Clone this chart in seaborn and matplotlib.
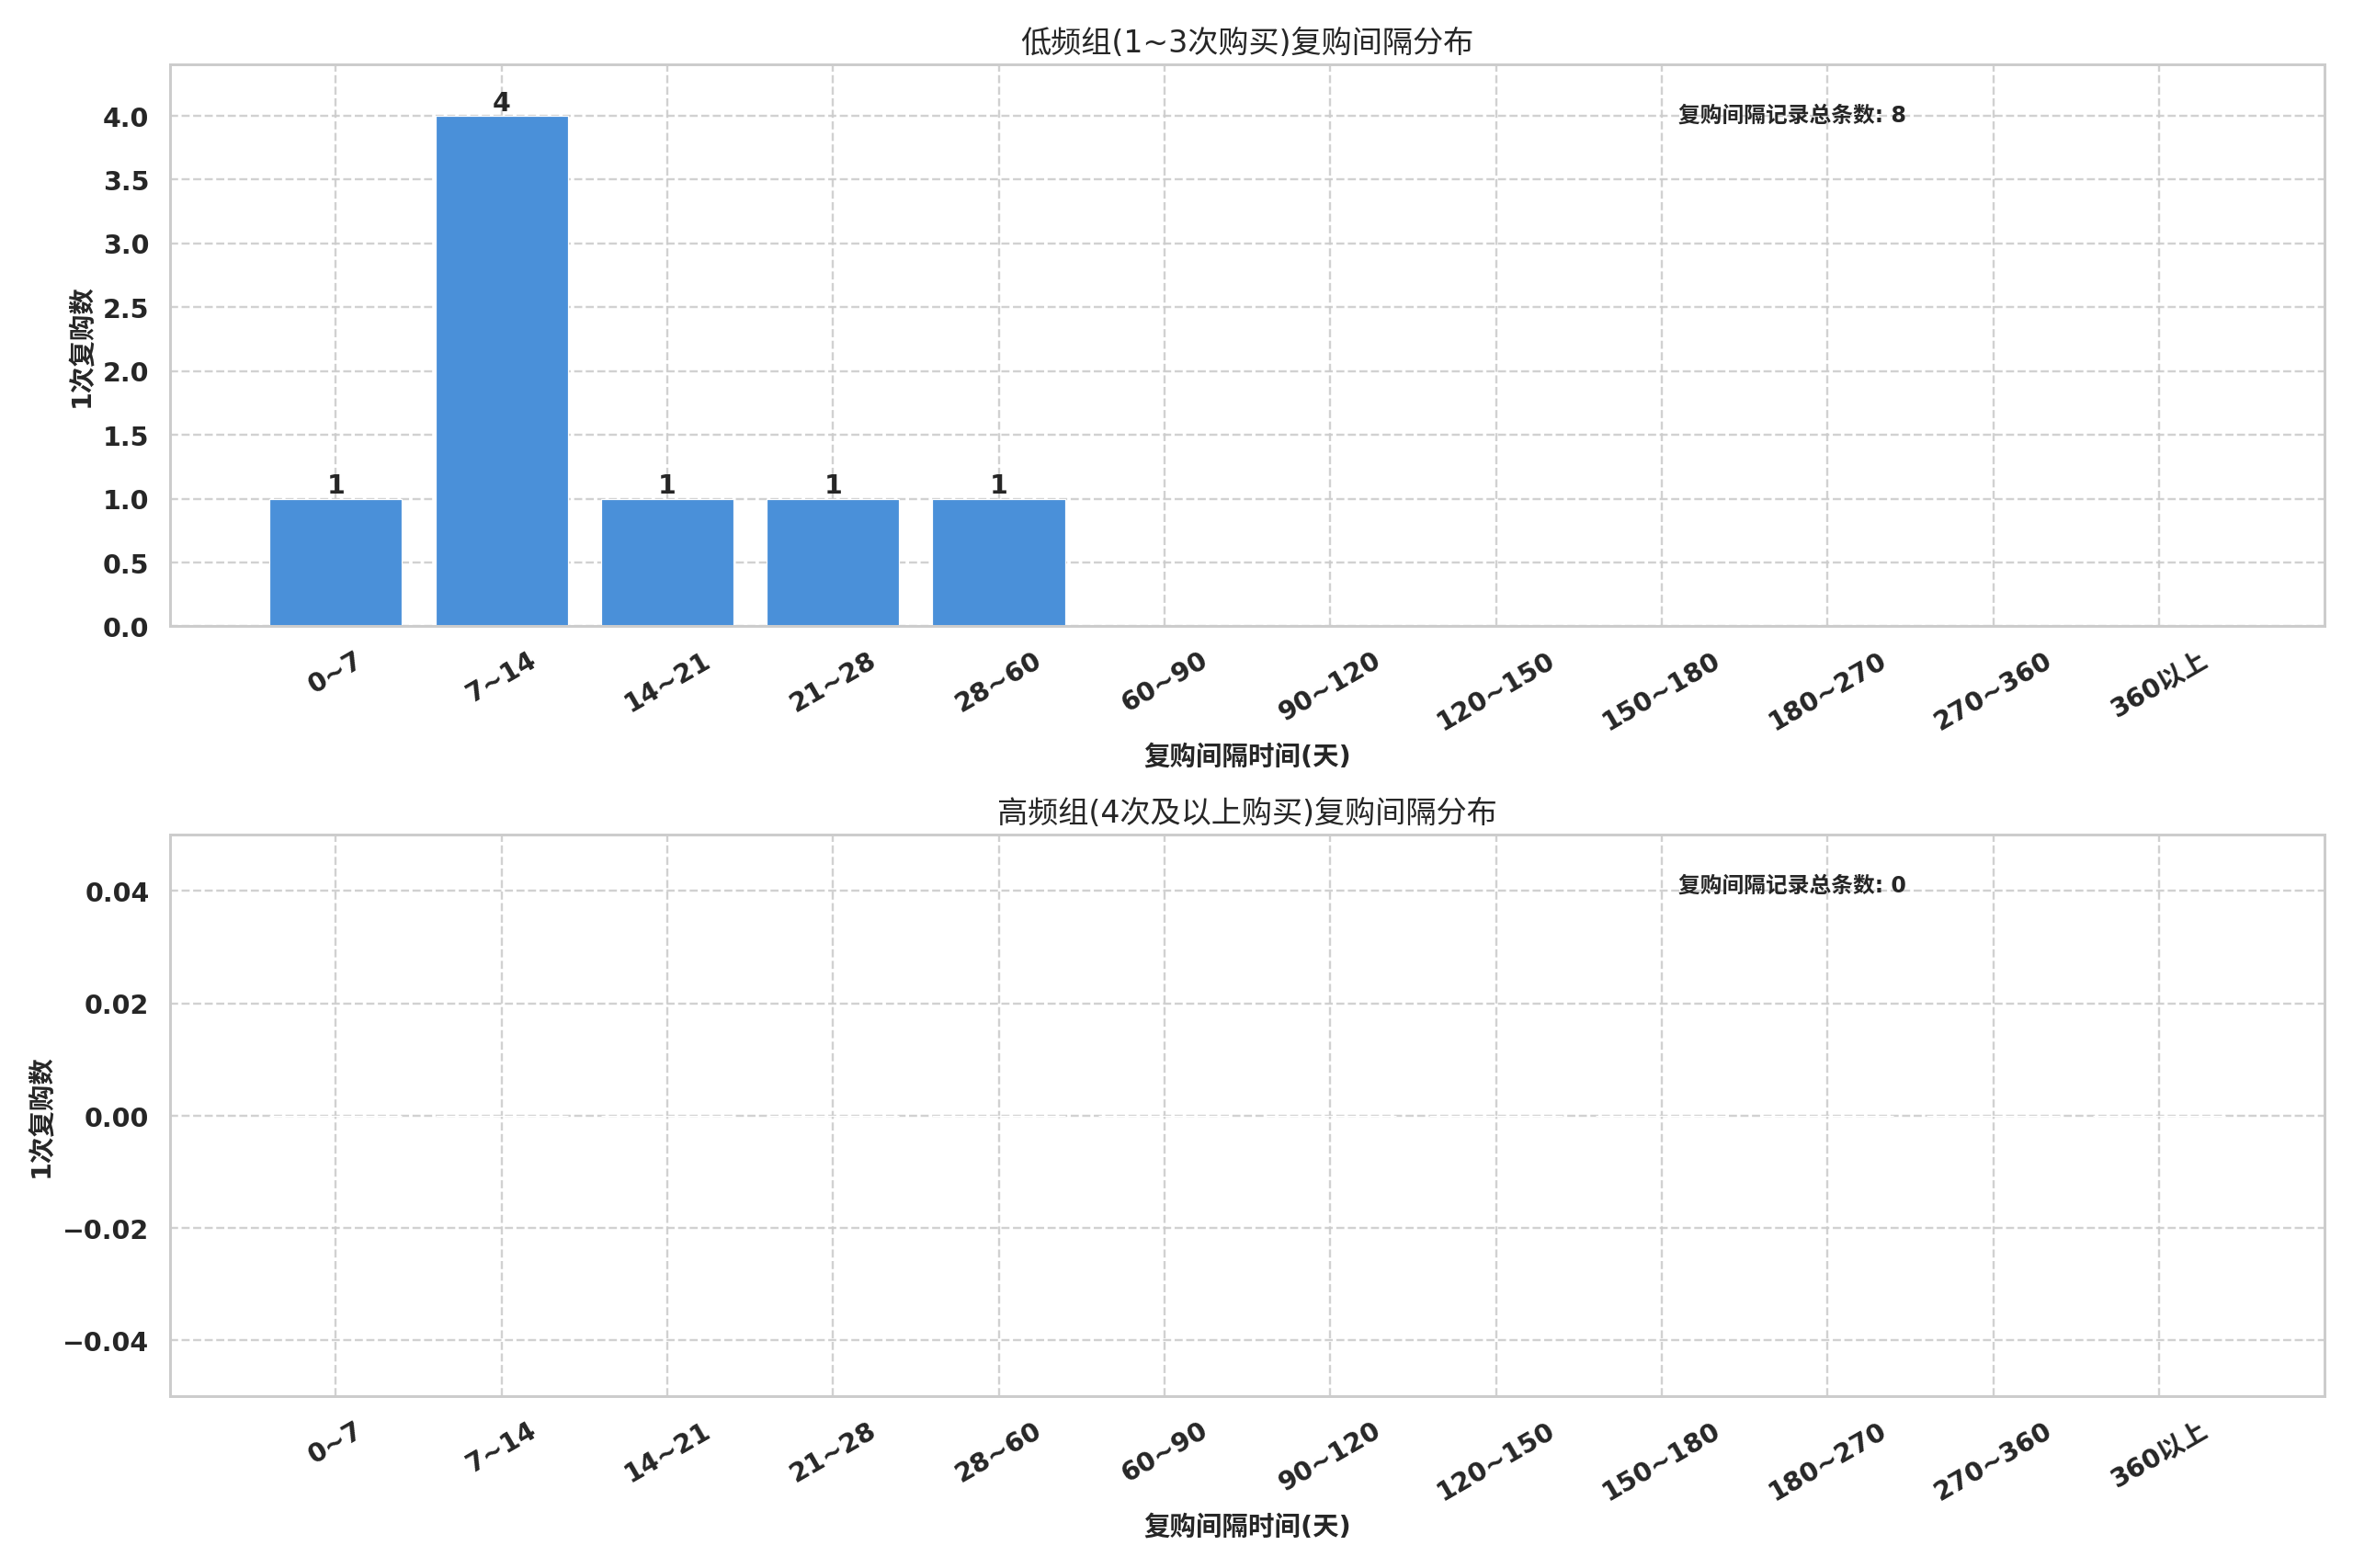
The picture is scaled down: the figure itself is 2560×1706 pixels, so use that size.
import matplotlib
matplotlib.use("Agg")
import matplotlib.pyplot as plt
import seaborn as sns
import pandas as pd

sns.set_theme(style="whitegrid")
plt.rcParams['font.family'] = ['DejaVu Sans', 'Noto Sans CJK SC']
plt.rcParams['axes.unicode_minus'] = True
plt.rcParams['grid.linestyle'] = '--'

# interval bins (days)
bins = ['0~7', '7~14', '14~21', '21~28', '28~60', '60~90', '90~120',
        '120~150', '150~180', '180~270', '270~360', '360以上']

low_counts = [1, 4, 1, 1, 1, 0, 0, 0, 0, 0, 0, 0]
high_counts = [0, 0, 0, 0, 0, 0, 0, 0, 0, 0, 0, 0]

titles = ['低频组(1~3次购买)复购间隔分布', '高频组(4次及以上购买)复购间隔分布']
total_label = '复购间隔记录总条数'
xlabel = '复购间隔时间(天)'
ylabel = '1次复购数'
bar_color = '#4A90D9'

fig, axes = plt.subplots(2, 1, figsize=(15, 10), dpi=2560 / 15)

for ax, counts, title in zip(axes, [low_counts, high_counts], titles):
    df = pd.DataFrame({'bin': bins, 'count': counts})
    sns.barplot(data=df, x='bin', y='count', color=bar_color, saturation=1,
                width=0.8, edgecolor='white', linewidth=0.5, ax=ax)
    for i, v in enumerate(counts):
        if v > 0:
            ax.text(i, v, str(v), ha='center', va='bottom', fontsize=12, fontweight='bold')
    ax.set_xlim(-1, len(bins))
    if max(counts) > 0:
        ax.set_ylim(0, max(counts) * 1.1)
    else:
        ax.set_ylim(-0.05, 0.05)
    ax.set_title(title, fontsize=14)
    ax.set_xlabel(xlabel, fontsize=12, fontweight='bold')
    ax.set_ylabel(ylabel, fontsize=12, fontweight='bold')
    ax.tick_params(axis='x', labelrotation=30)
    for lab in ax.get_xticklabels() + ax.get_yticklabels():
        lab.set_fontsize(12)
        lab.set_fontweight('bold')
    ax.grid(True, linestyle='--', alpha=0.9)
    ax.text(0.7, 0.93, f'{total_label}: {sum(counts)}', transform=ax.transAxes,
            fontsize=10, fontweight='bold', va='top')

plt.tight_layout()
plt.savefig('out.png')
